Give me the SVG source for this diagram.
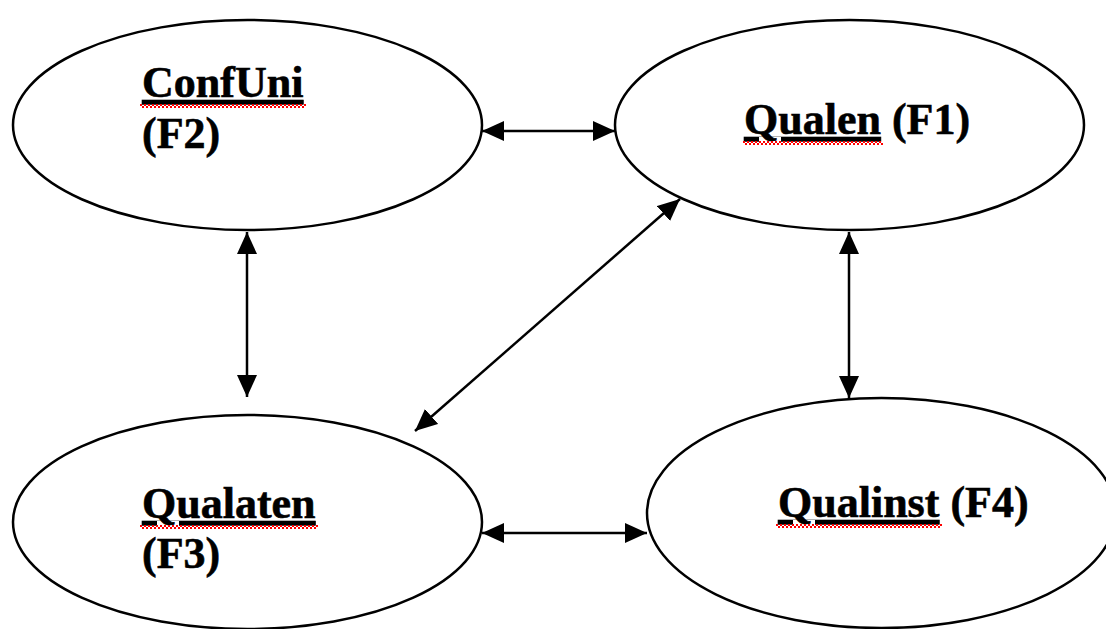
<svg xmlns="http://www.w3.org/2000/svg" width="1106" height="629" viewBox="0 0 1106 629">
<style>
.node{fill:#fff;stroke:#000;stroke-width:2.5}
.lbl{font-family:"Liberation Serif","Times New Roman",serif;font-weight:bold;font-size:44px;fill:#000;stroke:#000;stroke-width:0.6}
.ul{text-decoration:underline}
.conn{stroke:#000;stroke-width:2.5;fill:none;marker-start:url(#ah);marker-end:url(#ah)}
.wa{fill:none;stroke:#ff0000;stroke-width:2;stroke-dasharray:2 2}
.wb{fill:none;stroke:#ff0000;stroke-width:2;stroke-dasharray:2 2;stroke-dashoffset:2}
</style>
<defs>
<marker id="ah" markerUnits="userSpaceOnUse" markerWidth="22" markerHeight="20" refX="22" refY="10" orient="auto-start-reverse" viewBox="0 0 22 20">
<path d="M0,0 L22,10 L0,20 z" fill="#000"/>
</marker>
</defs>
<rect width="1106" height="629" fill="#fff"/>
<g id="node-confuni">
<ellipse class="node" cx="247.5" cy="125" rx="234.5" ry="105"/>
<text class="lbl" x="142" y="97"><tspan class="ul">ConfUni</tspan></text>
<text class="lbl" x="142" y="148">(F2)</text>
<path class="wa" d="M140,105h166"/><path class="wb" d="M140,107h166"/>
</g>
<g id="node-qualen">
<ellipse class="node" cx="849.5" cy="125" rx="234.5" ry="105"/>
<text class="lbl" x="744" y="134"><tspan class="ul">Qualen</tspan> (F1)</text>
<path class="wa" d="M743,142h140"/><path class="wb" d="M743,144h140"/>
</g>
<g id="node-qualaten">
<ellipse class="node" cx="247.5" cy="522" rx="234.5" ry="107"/>
<text class="lbl" x="142" y="518"><tspan class="ul">Qualaten</tspan></text>
<text class="lbl" x="142" y="568">(F3)</text>
<path class="wa" d="M140,526h178"/><path class="wb" d="M140,528h178"/>
</g>
<g id="node-qualinst">
<ellipse class="node" cx="881.5" cy="513" rx="234.5" ry="115"/>
<text class="lbl" x="778" y="517"><tspan class="ul">Qualinst</tspan> (F4)</text>
<path class="wa" d="M776,525h166"/><path class="wb" d="M776,527h166"/>
</g>
<g id="connectors">
<line class="conn" x1="482" y1="131" x2="615" y2="131"/>
<line class="conn" x1="482" y1="533" x2="647" y2="533"/>
<line class="conn" x1="247" y1="232" x2="247" y2="397"/>
<line class="conn" x1="849" y1="232" x2="849" y2="398"/>
<line class="conn" x1="680" y1="199" x2="415" y2="431"/>
</g>
</svg>
